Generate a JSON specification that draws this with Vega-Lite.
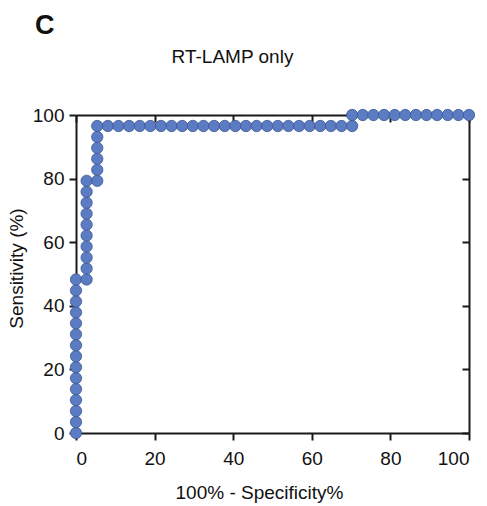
{
  "$schema": "https://vega.github.io/schema/vega-lite/v6.json",
  "width": 393,
  "height": 318,
  "autosize": "none",
  "padding": {"left": 76, "top": 115, "right": 18, "bottom": 73},
  "config": {
    "font": "Liberation Sans",
    "view": {"stroke": null},
    "axis": {
      "domainColor": "#1a1a1a",
      "domainWidth": 2,
      "tickColor": "#1a1a1a",
      "tickWidth": 2,
      "tickSize": 7,
      "grid": false,
      "labelFont": "Liberation Sans",
      "labelFontSize": 19,
      "labelColor": "#111111",
      "titleFont": "Liberation Sans",
      "titleFontSize": 19,
      "titleFontWeight": "normal",
      "titleColor": "#111111"
    }
  },
  "title": {
    "text": "C",
    "anchor": "start",
    "frame": "group",
    "fontSize": 27,
    "fontWeight": "bold",
    "color": "#111111",
    "dx": -41,
    "offset": 7
  },
  "data": {
    "values": [
      {"x": 0, "y": 0}, {"x": 0, "y": 3.45}, {"x": 0, "y": 6.9}, {"x": 0, "y": 10.34}, {"x": 0, "y": 13.79},
      {"x": 0, "y": 17.24}, {"x": 0, "y": 20.69}, {"x": 0, "y": 24.14}, {"x": 0, "y": 27.59}, {"x": 0, "y": 31.03},
      {"x": 0, "y": 34.48}, {"x": 0, "y": 37.93}, {"x": 0, "y": 41.38}, {"x": 0, "y": 44.83}, {"x": 0, "y": 48.28},
      {"x": 2.7, "y": 48.28}, {"x": 2.7, "y": 51.72}, {"x": 2.7, "y": 55.17}, {"x": 2.7, "y": 58.62}, {"x": 2.7, "y": 62.07},
      {"x": 2.7, "y": 65.52}, {"x": 2.7, "y": 68.97}, {"x": 2.7, "y": 72.41}, {"x": 2.7, "y": 75.86}, {"x": 2.7, "y": 79.31},
      {"x": 5.41, "y": 79.31}, {"x": 5.41, "y": 82.76}, {"x": 5.41, "y": 86.21}, {"x": 5.41, "y": 89.66}, {"x": 5.41, "y": 93.1},
      {"x": 5.41, "y": 96.55},
      {"x": 8.11, "y": 96.55}, {"x": 10.81, "y": 96.55}, {"x": 13.51, "y": 96.55}, {"x": 16.22, "y": 96.55},
      {"x": 18.92, "y": 96.55}, {"x": 21.62, "y": 96.55}, {"x": 24.32, "y": 96.55}, {"x": 27.03, "y": 96.55},
      {"x": 29.73, "y": 96.55}, {"x": 32.43, "y": 96.55}, {"x": 35.14, "y": 96.55}, {"x": 37.84, "y": 96.55},
      {"x": 40.54, "y": 96.55}, {"x": 43.24, "y": 96.55}, {"x": 45.95, "y": 96.55}, {"x": 48.65, "y": 96.55},
      {"x": 51.35, "y": 96.55}, {"x": 54.05, "y": 96.55}, {"x": 56.76, "y": 96.55}, {"x": 59.46, "y": 96.55},
      {"x": 62.16, "y": 96.55}, {"x": 64.86, "y": 96.55}, {"x": 67.57, "y": 96.55}, {"x": 70.27, "y": 96.55},
      {"x": 70.27, "y": 100}, {"x": 72.97, "y": 100}, {"x": 75.68, "y": 100}, {"x": 78.38, "y": 100},
      {"x": 81.08, "y": 100}, {"x": 83.78, "y": 100}, {"x": 86.49, "y": 100}, {"x": 89.19, "y": 100},
      {"x": 91.89, "y": 100}, {"x": 94.59, "y": 100}, {"x": 97.3, "y": 100}, {"x": 100, "y": 100}
    ]
  },
  "layer": [
    {
      "mark": {"type": "point", "opacity": 0},
      "encoding": {
        "x": {
          "field": "x", "type": "quantitative",
          "scale": {"domain": [0, 100], "nice": false, "zero": false},
          "axis": {
            "orient": "top", "values": [0, 20, 40, 60, 80, 100], "labels": false, "tickSize": -7,
            "title": "RT-LAMP only", "titleX": 156, "titleY": -53,
            "titleBaseline": "alphabetic", "titleAnchor": "middle"
          }
        },
        "y": {
          "field": "y", "type": "quantitative",
          "scale": {"domain": [0, 100], "nice": false, "zero": false},
          "axis": {"orient": "right", "values": [0, 20, 40, 60, 80, 100], "labels": false, "tickSize": -7, "title": null}
        }
      }
    },
    {
      "mark": {"type": "point", "filled": true, "size": 128, "color": "#5b7cc3", "stroke": "#3b5793", "strokeWidth": 0.8, "opacity": 1},
      "encoding": {
        "x": {
          "field": "x", "type": "quantitative",
          "scale": {"domain": [0, 100], "nice": false, "zero": false},
          "axis": {
            "orient": "bottom", "values": [0, 20, 40, 60, 80, 100], "labelPadding": 9,
            "title": "100% - Specificity%", "titleX": 183, "titleY": 65, "titleBaseline": "alphabetic", "titleAnchor": "middle"
          }
        },
        "y": {
          "field": "y", "type": "quantitative",
          "scale": {"domain": [0, 100], "nice": false, "zero": false},
          "axis": {
            "orient": "left", "values": [0, 20, 40, 60, 80, 100], "labelPadding": 5,
            "title": "Sensitivity (%)", "titleX": -54, "titleY": 153, "titleBaseline": "alphabetic", "titleAnchor": "middle", "titleAngle": -90
          }
        }
      }
    }
  ],
  "resolve": {"axis": {"x": "independent", "y": "independent"}}
}
